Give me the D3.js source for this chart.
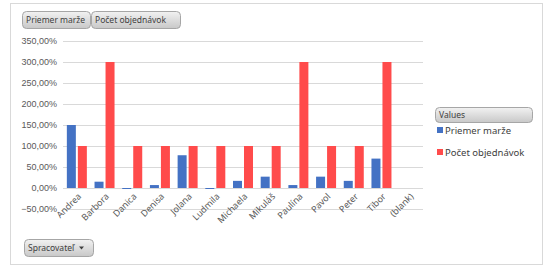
<!DOCTYPE html>
<html>
<head>
<meta charset="utf-8">
<script src="https://cdn.jsdelivr.net/npm/d3@7"></script>
<style>
  body { margin: 0; background: #fff; }
  svg { display: block; font-family: "Noto Sans", "Open Sans", sans-serif; }
</style>
</head>
<body>
<svg id="chart" width="555" height="269"></svg>
<script>
var categories = ["Andrea", "Barbora", "Danica", "Denisa", "Jolana", "Ludmila", "Michaela", "Mikuláš", "Paulína", "Pavol", "Peter", "Tibor", "(blank)"];
var priemerMarze = [150, 15, -2, 7, 78, -2, 17, 27, 7, 27, 17, 70, null];
var pocetObjednavok = [100, 300, 100, 100, 100, 100, 100, 100, 300, 100, 100, 300, null];
var yTicks = [-50, 0, 50, 100, 150, 200, 250, 300, 350];
var seriesNames = ["Priemer marže", "Počet objednávok"];
var seriesColors = ["#4472C4", "#FF4B4B"];

var svg = d3.select("#chart");

// outer frame
svg.append("rect")
    .attr("x", 10.5).attr("y", 3.5)
    .attr("width", 532).attr("height", 261)
    .attr("fill", "#fff")
    .attr("stroke", "#d9d9d9");

var x = d3.scaleBand().domain(categories).range([63, 423]).paddingInner(0).paddingOuter(0);
var y = d3.scaleLinear().domain([-50, 350]).range([209, 41]);

// gridlines
svg.append("g").selectAll("line")
    .data(yTicks)
    .enter().append("line")
    .attr("x1", 63).attr("x2", 423)
    .attr("y1", function (d) { return Math.round(y(d)) + 0.5; })
    .attr("y2", function (d) { return Math.round(y(d)) + 0.5; })
    .attr("stroke", "#d9d9d9");

// y axis labels
var yAxis = d3.axisLeft(y).tickValues(yTicks)
    .tickSize(0).tickPadding(0)
    .tickFormat(function (d) { return d3.format(".2f")(d).replace(".", ",") + "%"; });
var yg = svg.append("g").attr("transform", "translate(57,0)").call(yAxis);
yg.select(".domain").remove();
yg.selectAll("text").attr("fill", "#595959").style("font-size", "9px");

// bars
var barW = 9, gap = 2;
var series = [priemerMarze, pocetObjednavok];
series.forEach(function (vals, si) {
    svg.append("g").selectAll("rect")
        .data(vals.map(function (v, i) { return { c: categories[i], v: v }; }).filter(function (d) { return d.v !== null; }))
        .enter().append("rect")
        .attr("x", function (d) {
            var c = x(d.c) + x.bandwidth() / 2;
            return si === 0 ? c - gap / 2 - barW : c + gap / 2;
        })
        .attr("y", function (d) { return Math.min(y(d.v), y(0)); })
        .attr("width", barW)
        .attr("height", function (d) { return Math.max(1, Math.abs(y(d.v) - y(0))); })
        .attr("fill", seriesColors[si]);
});

// x axis labels
var xg = svg.append("g");
xg.selectAll("text")
    .data(categories)
    .enter().append("text")
    .attr("transform", function (d) {
        return "translate(" + (x(d) + x.bandwidth() / 2 + 5) + ",197) rotate(-45)";
    })
    .attr("text-anchor", "end")
    .attr("fill", "#595959")
    .style("font-size", "9px")
    .text(function (d) { return d; });

// button gradient
var defs = svg.append("defs");
var grad = defs.append("linearGradient").attr("id", "btn").attr("x1", 0).attr("y1", 0).attr("x2", 0).attr("y2", 1);
grad.append("stop").attr("offset", "0%").attr("stop-color", "#f2f2f2");
grad.append("stop").attr("offset", "100%").attr("stop-color", "#c8c8c8");

function button(bx, by, w, h, label, arrow) {
    var g = svg.append("g");
    g.append("rect")
        .attr("x", bx + 0.5).attr("y", by + 0.5)
        .attr("width", w).attr("height", h)
        .attr("rx", 4)
        .attr("fill", "url(#btn)")
        .attr("stroke", "#a6a6a6");
    g.append("text")
        .attr("x", bx + 4).attr("y", by + h / 2 + 3.5)
        .attr("fill", "#404040")
        .style("font-size", "8.5px")
        .text(label);
    if (arrow) {
        g.append("path")
            .attr("d", "M" + (bx + w - 14) + "," + (by + h / 2 - 1) + " l5,0 l-2.5,3 z")
            .attr("fill", "#404040");
    }
}

button(22, 11, 68, 17, seriesNames[0]);
button(91, 11, 89, 17, seriesNames[1]);
button(24, 239, 69, 17, "Spracovateľ", true);
button(435, 107, 97, 15, "Values");

// legend
var lg = svg.append("g").selectAll("g")
    .data(seriesNames)
    .enter().append("g")
    .attr("transform", function (d, i) { return "translate(437," + (131 + i * 22) + ")"; });
lg.append("rect").attr("x", 0).attr("y", -4).attr("width", 6).attr("height", 6)
    .attr("fill", function (d, i) { return seriesColors[i]; });
lg.append("text").attr("x", 8).attr("y", 3)
    .attr("fill", "#404040")
    .style("font-size", "9.5px")
    .text(function (d) { return d; });
</script>
</body>
</html>
